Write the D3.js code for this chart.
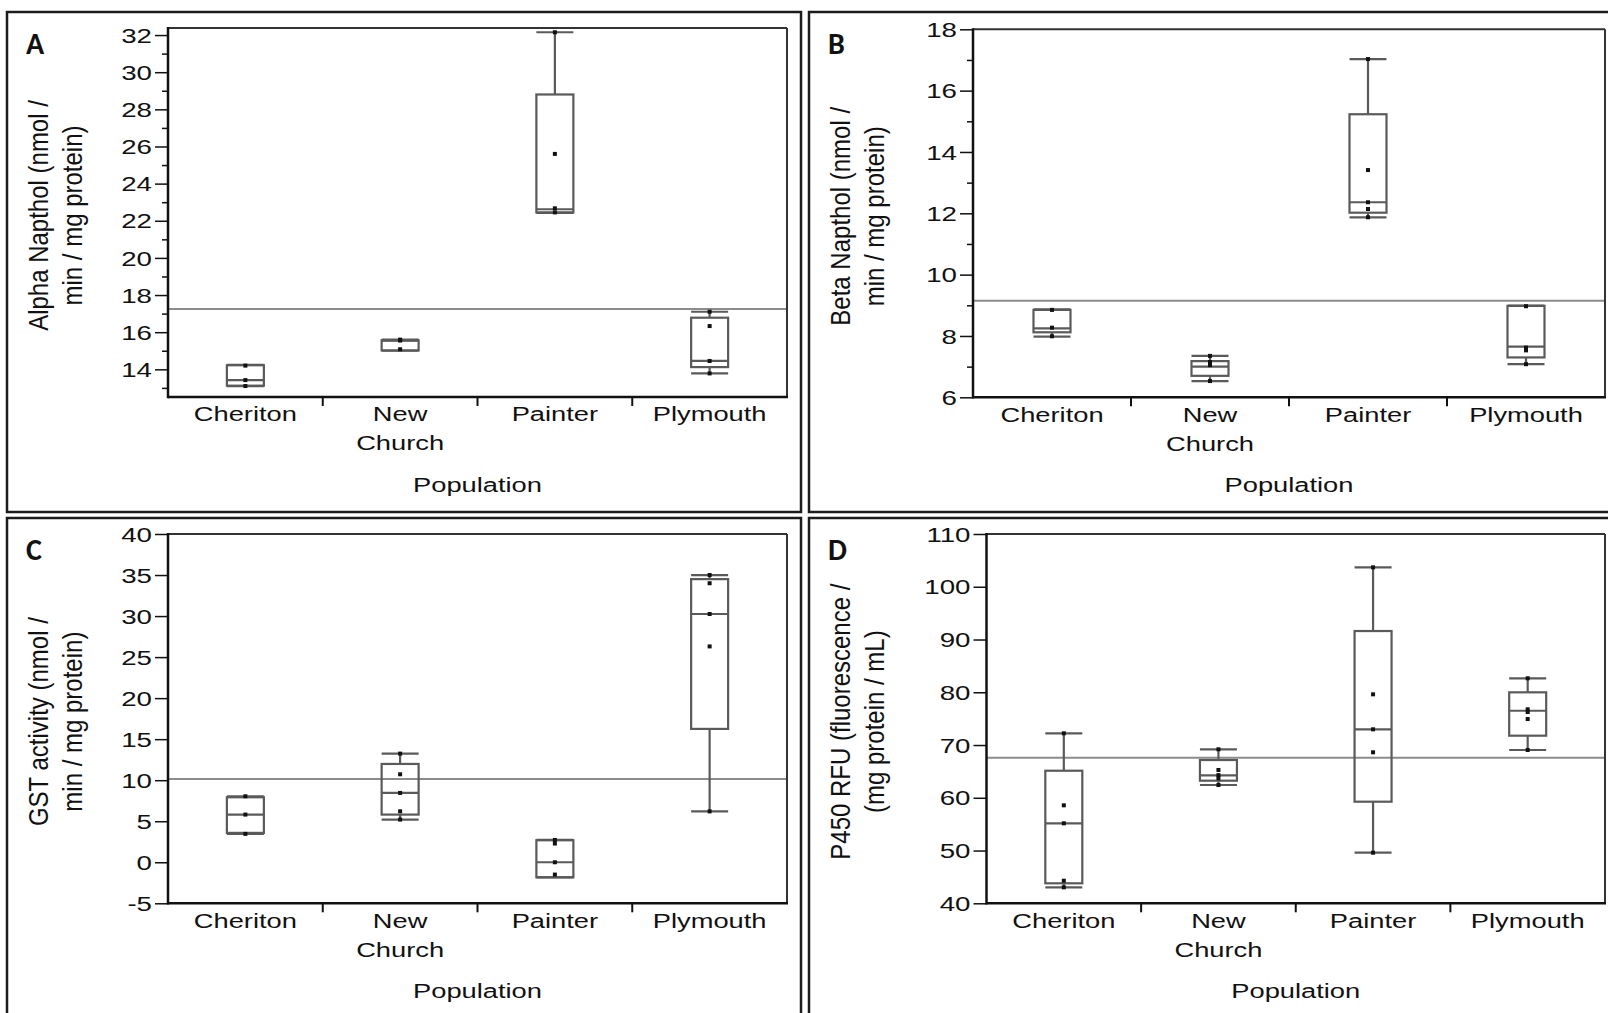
<!DOCTYPE html>
<html><head><meta charset="utf-8">
<script src="https://cdn.jsdelivr.net/npm/d3@7"></script>
<style>body{margin:0;background:#fff} svg{display:block}</style>
</head><body>
<svg id="chart" width="1608" height="1013"></svg>
<script>
// ---------------- DATA ----------------
const categories = ["Cheriton", "New Church", "Painter", "Plymouth"];

// box statistics per category: [min, q1, median, q3, max]
const alphaBoxes = [[13.1, 13.12, 13.42, 14.22, 14.24], [15.0, 15.02, 15.55, 15.56, 15.6], [22.43, 22.45, 22.62, 28.8, 32.15], [13.78, 14.12, 14.45, 16.78, 17.1]];
const alphaPoints = [[14.2, 13.42, 13.1], [15.6, 15.55, 15.08], [32.15, 25.6, 22.67, 22.45], [17.1, 16.33, 14.45, 13.78]];
const alphaMean = 17.25;
const alphaDomain = [12.51, 32.38];
const alphaTicks = [14, 16, 18, 20, 22, 24, 26, 28, 30, 32];
const alphaMinorTicks = [13, 15, 17, 19, 21, 23, 25, 27, 29, 31];

const betaBoxes = [[7.98, 8.12, 8.25, 8.85, 8.87], [6.53, 6.7, 7.0, 7.18, 7.35], [11.87, 12.02, 12.36, 15.23, 17.03], [7.08, 7.3, 7.65, 8.98, 8.99]];
const betaPoints = [[8.85, 8.27, 7.99], [7.35, 7.15, 7.05, 6.53], [17.03, 13.41, 12.36, 12.14, 11.87], [8.97, 7.62, 7.53, 7.08]];
const betaMean = 9.15;
const betaDomain = [6, 18];
const betaTicks = [6, 8, 10, 12, 14, 16, 18];
const betaMinorTicks = [7, 9, 11, 13, 15, 17];

const gstBoxes = [[3.46, 3.58, 5.81, 7.92, 8.04], [5.2, 5.81, 8.45, 11.98, 13.24], [-1.83, -1.83, 0.0, 2.68, 2.72], [6.2, 16.25, 30.25, 34.5, 35.0]];
const gstPoints = [[8.04, 5.81, 3.46], [13.24, 10.72, 8.45, 6.21, 5.2], [2.72, 2.28, 0.0, -1.5], [35.0, 34.0, 30.25, 26.3, 6.2]];
const gstMean = 10.16;
const gstDomain = [-5, 40];
const gstTicks = [-5, 0, 5, 10, 15, 20, 25, 30, 35, 40];
const gstMinorTicks = [];

const p450Boxes = [[43.03, 43.79, 55.16, 65.13, 72.22], [62.42, 63.24, 64.26, 67.16, 69.19], [49.59, 59.26, 72.98, 91.61, 103.68], [69.06, 71.77, 76.5, 79.99, 82.65]];
const p450Points = [[72.22, 58.57, 55.16, 44.28, 43.03], [69.19, 65.27, 64.3, 63.7, 62.42], [103.68, 79.61, 72.98, 68.62, 49.59], [82.65, 76.77, 76.26, 74.93, 69.06]];
const p450Mean = 67.6;
const p450Domain = [40, 110];
const p450Ticks = [40, 50, 60, 70, 80, 90, 100, 110];
const p450MinorTicks = [];

const panelLetters = ["A", "B", "C", "D"];
const yLabels = [
  ["Alpha Napthol (nmol /", "min / mg protein)"],
  ["Beta Napthol (nmol /", "min / mg protein)"],
  ["GST activity (nmol /", "min / mg protein)"],
  ["P450 RFU (fluorescence /", "(mg protein / mL)"]
];
const xTitle = "Population";

// ---------------- LAYOUT ----------------
const FONT = "'Liberation Sans', Arial, Helvetica, sans-serif";
const SX = 1.35;       // horizontal stretch of the reference text
const panels = [
  {boxes: alphaBoxes, points: alphaPoints, mean: alphaMean, domain: alphaDomain, ticks: alphaTicks, minor: alphaMinorTicks,
   frame: [7, 12, 801, 512], plot: [168, 28, 787, 397]},
  {boxes: betaBoxes, points: betaPoints, mean: betaMean, domain: betaDomain, ticks: betaTicks, minor: betaMinorTicks,
   frame: [809, 12, 1612, 512], plot: [973, 29.3, 1605, 397.3]},
  {boxes: gstBoxes, points: gstPoints, mean: gstMean, domain: gstDomain, ticks: gstTicks, minor: gstMinorTicks,
   frame: [7, 518, 801, 1020], plot: [168, 534, 787, 903.3]},
  {boxes: p450Boxes, points: p450Points, mean: p450Mean, domain: p450Domain, ticks: p450Ticks, minor: p450MinorTicks,
   frame: [809, 518, 1612, 1020], plot: [986.5, 534, 1605, 903.3]}
];

const svg = d3.select("#chart");
const BOXW = 37;
const BOXCOL = "#5a5a5a";

panels.forEach((p, pi) => {
  const [fx0, fy0, fx1, fy1] = p.frame;
  const [px0, py0, px1, py1] = p.plot;
  const g = svg.append("g");

  // outer panel frame
  g.append("rect").attr("x", fx0).attr("y", fy0).attr("width", fx1 - fx0).attr("height", fy1 - fy0)
    .attr("fill", "none").attr("stroke", "#1c1c1c").attr("stroke-width", 2.5);

  const x = d3.scaleBand().domain(categories).range([px0, px1]);
  const y = d3.scaleLinear().domain(p.domain).range([py1, py0]);

  // grand mean reference line
  g.append("line").attr("x1", px0).attr("x2", px1).attr("y1", y(p.mean)).attr("y2", y(p.mean))
    .attr("stroke", "#8c8c8c").attr("stroke-width", 2);

  // boxes
  const bg = g.selectAll("g.box").data(categories).join("g").attr("class", "box")
    .attr("transform", d => `translate(${x(d) + x.bandwidth() / 2},0)`);
  bg.each(function(c, i) {
    const s = p.boxes[i];
    const b = d3.select(this);
    const st = sel => sel.attr("stroke", BOXCOL).attr("stroke-width", 2.2).attr("fill", "none");
    if (s[4] > s[3]) b.append("line").attr("x1", 0).attr("x2", 0).attr("y1", y(s[3])).attr("y2", y(s[4])).call(st);
    if (s[0] < s[1]) b.append("line").attr("x1", 0).attr("x2", 0).attr("y1", y(s[1])).attr("y2", y(s[0])).call(st);
    b.append("line").attr("x1", -BOXW / 2).attr("x2", BOXW / 2).attr("y1", y(s[4])).attr("y2", y(s[4])).call(st);
    b.append("line").attr("x1", -BOXW / 2).attr("x2", BOXW / 2).attr("y1", y(s[0])).attr("y2", y(s[0])).call(st);
    b.append("rect").attr("x", -BOXW / 2).attr("width", BOXW).attr("y", y(s[3])).attr("height", y(s[1]) - y(s[3])).call(st);
    b.append("line").attr("x1", -BOXW / 2).attr("x2", BOXW / 2).attr("y1", y(s[2])).attr("y2", y(s[2])).call(st);
    b.selectAll("rect.pt").data(p.points[i]).join("rect").attr("class", "pt")
      .attr("x", -2).attr("width", 4).attr("y", v => y(v) - 2).attr("height", 4).attr("fill", "#111");
  });

  // plot frame
  g.append("line").attr("x1", px0).attr("x2", px1).attr("y1", py0).attr("y2", py0).attr("stroke", "#333").attr("stroke-width", 2);
  g.append("line").attr("x1", px1).attr("x2", px1).attr("y1", py0).attr("y2", py1).attr("stroke", "#333").attr("stroke-width", 2);
  g.append("line").attr("x1", px0).attr("x2", px0).attr("y1", py0 - 1).attr("y2", py1 + 1.2).attr("stroke", "#111").attr("stroke-width", 2.5);
  g.append("line").attr("x1", px0).attr("x2", px1 + 1).attr("y1", py1).attr("y2", py1).attr("stroke", "#111").attr("stroke-width", 2.5);

  // y axis (major)
  const yAxis = d3.axisLeft(y).tickValues(p.ticks).tickSize(13).tickSizeOuter(0).tickFormat(d => String(d));
  const gy = g.append("g").attr("transform", `translate(${px0},0)`).call(yAxis)
    .attr("font-family", FONT).attr("font-size", 20.5);
  gy.select(".domain").remove();
  gy.selectAll(".tick line").attr("stroke", "#111").attr("stroke-width", 1.5);
  gy.selectAll(".tick text").attr("fill", "#111").attr("x", -16 / SX).attr("dy", "0.35em")
    .attr("transform", `scale(${SX},1)`);
  if (p.minor.length) {
    const gm = g.append("g").attr("transform", `translate(${px0},0)`)
      .call(d3.axisLeft(y).tickValues(p.minor).tickSize(6).tickSizeOuter(0).tickFormat(""));
    gm.select(".domain").remove();
    gm.selectAll(".tick line").attr("stroke", "#111").attr("stroke-width", 1.5);
  }

  // x axis: category labels
  const gx = g.append("g").attr("transform", `translate(0,${py1})`)
    .call(d3.axisBottom(x).tickSize(0).tickSizeOuter(0))
    .attr("font-family", FONT).attr("font-size", 21);
  gx.select(".domain").remove();
  gx.selectAll(".tick text").each(function(d) {
    const t = d3.select(this).text(null).attr("fill", "#111").attr("y", 0).attr("dy", null)
      .attr("transform", `scale(${1.3},1)`);
    d.split(" ").forEach((w, k) => t.append("tspan").attr("x", 0).attr("y", 24.5 + k * 29).text(w));
  });
  g.selectAll("line.sep").data(categories.slice(1)).join("line").attr("class", "sep")
    .attr("x1", d => x(d)).attr("x2", d => x(d)).attr("y1", py1).attr("y2", py1 + 9)
    .attr("stroke", "#111").attr("stroke-width", 2);

  // x title
  g.append("text").attr("transform", `translate(${(px0 + px1) / 2},${py1 + 95}) scale(1.3,1)`)
    .attr("text-anchor", "middle").attr("font-family", FONT).attr("font-size", 21).attr("fill", "#111").text(xTitle);

  // y title (two lines)
  const cy = (py0 + py1) / 2 + 3;
  yLabels[pi].forEach((line, k) => {
    g.append("text").attr("transform", `translate(${fx0 + 31 + k * 34},${cy}) scale(1.15,1) rotate(-90)`)
      .attr("text-anchor", "middle").attr("dy", "0.35em").attr("font-family", FONT).attr("font-size", 24)
      .attr("fill", "#111").text(line);
  });

  // panel letter
  g.append("text").attr("x", fx0 + 19).attr("y", fy0 + 42).attr("font-family", "Carlito, Lato, 'Open Sans', sans-serif")
    .attr("font-weight", "bold").attr("font-size", 30).attr("fill", "#111").text(panelLetters[pi]);
});
</script>
</body></html>
